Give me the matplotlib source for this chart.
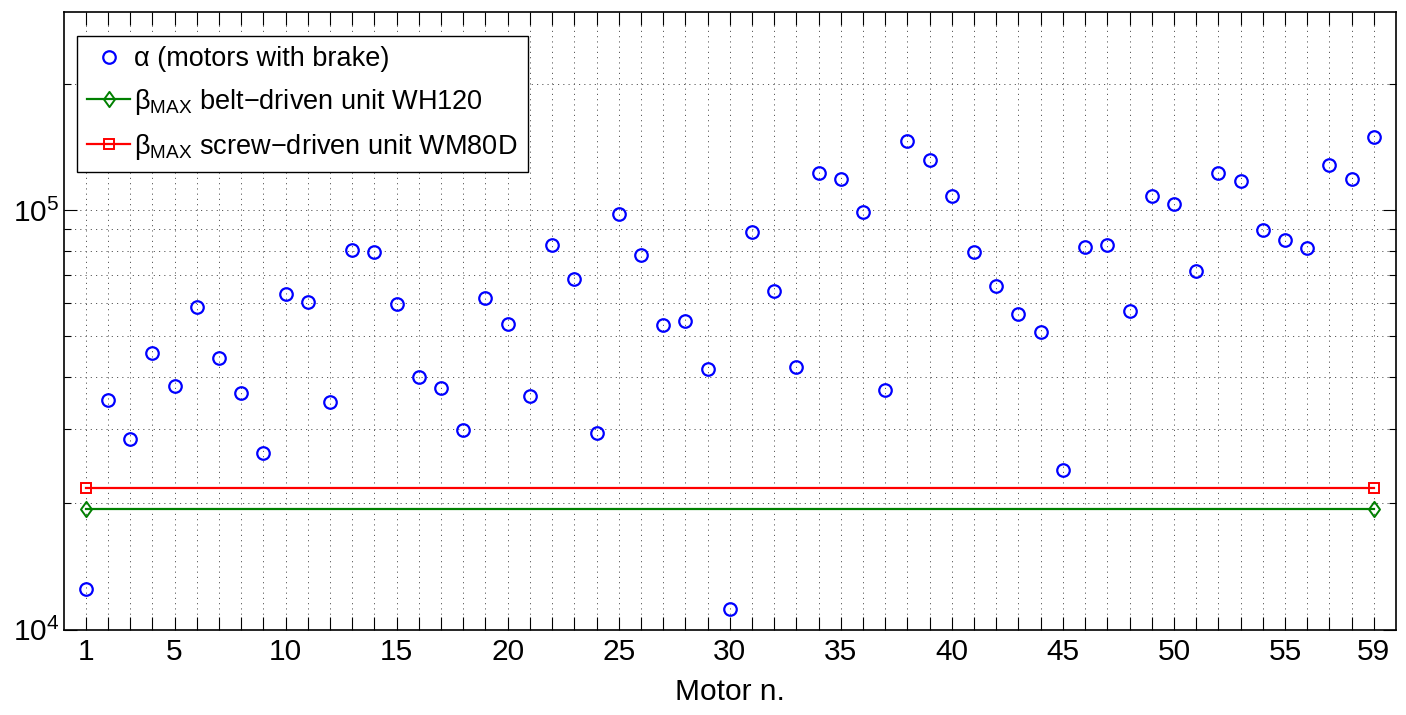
import matplotlib
matplotlib.use("Agg")
import matplotlib.pyplot as plt
from matplotlib.ticker import NullFormatter, NullLocator, FixedLocator
from matplotlib.path import Path

plt.rcParams['font.family'] = ['Liberation Sans', 'DejaVu Sans']
plt.rcParams['mathtext.fontset'] = 'custom'
plt.rcParams['mathtext.rm'] = 'Liberation Sans'
plt.rcParams['mathtext.it'] = 'Liberation Sans:italic'
plt.rcParams['mathtext.bf'] = 'Liberation Sans:bold'

# ---- data ----
motors = list(range(1, 60))
alpha = [1.246e4, 3.52e4, 2.84e4, 4.56e4, 3.80e4, 5.88e4, 4.44e4, 3.66e4, 2.64e4, 6.30e4,
         6.04e4, 3.48e4, 8.04e4, 7.93e4, 5.96e4, 4.01e4, 3.76e4, 2.99e4, 6.19e4, 5.35e4,
         3.61e4, 8.25e4, 6.85e4, 2.95e4, 9.80e4, 7.81e4, 5.31e4, 5.44e4, 4.18e4, 1.12e4,
         8.86e4, 6.40e4, 4.23e4, 1.230e5, 1.184e5, 9.89e4, 3.72e4, 1.466e5, 1.318e5, 1.080e5,
         7.94e4, 6.60e4, 5.66e4, 5.12e4, 2.40e4, 8.16e4, 8.27e4, 5.74e4, 1.080e5, 1.034e5,
         7.15e4, 1.230e5, 1.175e5, 8.96e4, 8.48e4, 8.12e4, 1.281e5, 1.186e5, 1.499e5]
beta_belt = 1.939e4    # WH120
beta_screw = 2.176e4   # WM80D
labeled_ticks = [1, 5, 10, 15, 20, 25, 30, 35, 40, 45, 50, 55, 59]
series_labels = ['α (motors with brake)',
                 r'β$_{\mathrm{MAX}}$ belt−driven unit WH120',
                 r'β$_{\mathrm{MAX}}$ screw−driven unit WM80D']
xlabel = 'Motor n.'

# ---- figure ----
W, H = 1406, 715
fig = plt.figure(figsize=(W / 100, H / 100), dpi=100)
ax = fig.add_axes([63.5 / W, 1 - 629.5 / H, (1396 - 63.5) / W, (629.5 - 12) / H])

diamond = Path([(0, 1), (0.72, 0), (0, -1), (-0.72, 0), (0, 1)],
               [Path.MOVETO, Path.LINETO, Path.LINETO, Path.LINETO, Path.CLOSEPOLY])

ax.plot(motors, alpha, linestyle='none', marker='o', mfc='none', mec=(0, 0, 1),
        ms=9, mew=1.6, label=series_labels[0], zorder=3)
ax.plot([motors[0], motors[-1]], [beta_belt, beta_belt], color=(0, 0.5, 0), lw=1.6,
        marker=diamond, ms=11, mfc='none', mew=1.4, label=series_labels[1], zorder=3)
ax.plot([motors[0], motors[-1]], [beta_screw, beta_screw], color=(1, 0, 0), lw=1.6,
        marker='s', ms=6.8, mfc='none', mew=1.4, label=series_labels[2], zorder=3)

ax.set_yscale('log')
ax.set_ylim(1e4, 2.97e5)
ax.set_xlim(0, 60)

ax.xaxis.set_major_locator(FixedLocator(motors))
ax.set_xticklabels([str(m) if m in labeled_ticks else '' for m in motors])
ax.xaxis.set_minor_locator(NullLocator())
ax.yaxis.set_minor_formatter(NullFormatter())

ax.tick_params(which='both', direction='in', top=True, right=True, width=0.8,
               labelsize=21.5)
ax.tick_params(axis='x', which='major', length=9.5, pad=6)
ax.tick_params(axis='y', which='major', length=9.5, pad=3)
ax.tick_params(which='minor', length=5)

grid_style = dict(color='0.35', linewidth=0.7, linestyle=(0, (1.2, 4.2)))
ax.grid(which='major', axis='both', **grid_style)
ax.grid(which='minor', axis='y', **grid_style)

for s in ax.spines.values():
    s.set_linewidth(1.2)

ax.set_xlabel(xlabel, fontsize=21.5, labelpad=9)

leg = ax.legend(loc='upper left', bbox_to_anchor=(77 / W, 1 - 36 / H),
                bbox_transform=fig.transFigure, borderaxespad=0, fancybox=False,
                edgecolor='black', framealpha=1, fontsize=19.5, handlelength=1.6,
                handletextpad=0.15, borderpad=0.37, labelspacing=0.55)
leg.get_frame().set_linewidth(1.0)

fig.savefig('out.png', dpi=100)
